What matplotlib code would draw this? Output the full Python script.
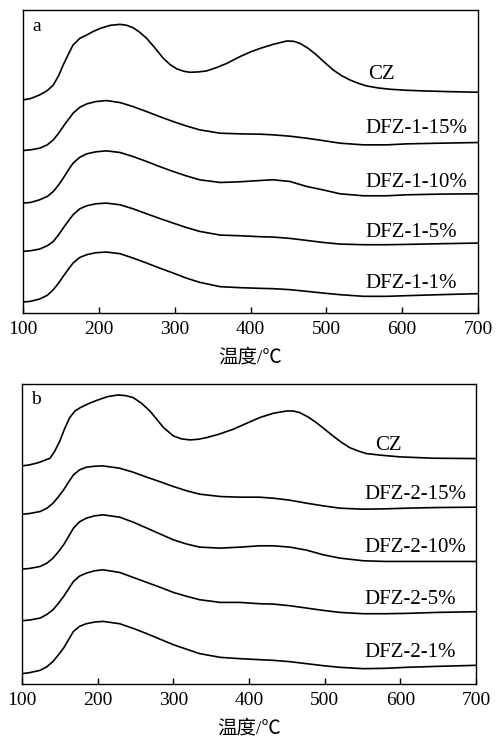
import matplotlib.pyplot as plt

plt.rcParams['font.family'] = ['Liberation Serif', 'Noto Sans CJK SC', 'DejaVu Sans']

# ---- panel a (stacked intensity, a.u.) ----
cz_a_t = [100, 110, 122, 132, 140, 147, 153, 160, 166, 175, 184, 193, 202, 215, 228, 237, 245, 254,
          263, 274, 285, 294, 303, 312, 320, 331, 342, 355, 369, 386, 400, 413, 430, 448, 457, 465,
          476, 487, 498, 509, 520, 531, 542, 553, 568, 584, 605, 628, 660, 700]
cz_a = [64.0, 64.4, 65.5, 66.8, 68.5, 71.3, 74.5, 77.8, 80.5, 82.5, 83.5, 84.6, 85.5, 86.4, 86.7, 86.4,
        85.7, 84.3, 82.5, 79.6, 76.5, 74.6, 73.3, 72.6, 72.3, 72.4, 72.7, 73.7, 75.0, 77.0, 78.4, 79.5,
        80.7, 81.7, 81.6, 81.0, 79.5, 77.5, 75.2, 73.0, 71.3, 70.0, 69.0, 68.2, 67.6, 67.2, 66.9, 66.7,
        66.5, 66.3]

dfz_t = [100, 110, 122, 132, 140, 147, 153, 160, 166, 175, 184, 196, 210, 228, 245, 263, 280, 298,
         315, 333, 360, 386, 413, 430, 452, 474, 495, 518, 549, 580, 606, 650, 700]
dfz1_15 = [48.8, 49.0, 49.5, 50.5, 52.0, 54.0, 56.0, 58.2, 60.0, 61.8, 62.8, 63.5, 63.8, 63.2, 62.0,
           60.5, 59.0, 57.5, 56.2, 55.0, 54.0, 53.8, 53.7, 53.5, 53.1, 52.5, 51.8, 51.0, 50.5, 50.5,
           50.8, 51.0, 51.2]
dfz1_10 = [33.0, 33.2, 34.0, 35.0, 36.5, 38.5, 40.5, 43.0, 45.0, 46.8, 47.8, 48.4, 48.7, 48.2, 47.0,
           45.5, 44.0, 42.5, 41.2, 40.0, 39.2, 39.4, 39.8, 40.0, 39.5, 38.0, 37.0, 35.8, 35.2, 35.2,
           35.5, 35.7, 35.8]
dfz1_5 = [18.5, 18.7, 19.2, 20.2, 21.5, 23.5, 25.5, 27.7, 29.5, 31.3, 32.2, 32.8, 33.0, 32.5, 31.3,
          29.8, 28.4, 27.0, 25.7, 24.5, 23.4, 23.2, 22.9, 22.8, 22.4, 21.8, 21.2, 20.7, 20.5, 20.5,
          20.6, 20.8, 21.0]
dfz1_1 = [3.3, 3.5, 4.2, 5.3, 7.0, 9.0, 11.0, 13.2, 15.0, 16.7, 17.5, 18.1, 18.3, 17.8, 16.5,
          15.0, 13.5, 12.0, 10.5, 9.2, 7.9, 7.6, 7.4, 7.3, 7.0, 6.5, 6.0, 5.5, 5.0, 5.0,
          5.2, 5.5, 5.8]

# ---- panel b ----
cz_b_t = [100, 110, 122, 137, 143, 150, 156, 163, 170, 177, 188, 199, 213, 227, 237, 247, 258, 269,
          278, 287, 300, 311, 322, 333, 344, 360, 379, 397, 414, 432, 450, 458, 467, 478, 489, 500,
          511, 522, 533, 544, 555, 575, 600, 644, 700]
cz_b = [65.5, 65.8, 66.5, 67.8, 69.8, 73.0, 76.5, 80.0, 82.0, 83.0, 84.2, 85.2, 86.3, 86.8, 86.6, 86.0,
        84.3, 82.0, 79.5, 77.0, 74.5, 73.6, 73.3, 73.5, 74.0, 75.0, 76.5, 78.3, 80.0, 81.3, 82.0, 82.0,
        81.5, 80.2, 78.5, 76.5, 74.5, 72.6, 71.0, 70.0, 69.2, 68.7, 68.2, 67.8, 67.7]

dfz2_t = [100, 110, 124, 133, 141, 148, 155, 162, 168, 176, 185, 196, 207, 229, 247, 265, 283, 300,
          318, 335, 362, 388, 414, 432, 454, 476, 498, 520, 551, 580, 608, 650, 700]
dfz2_15 = [51.0, 51.2, 51.8, 52.8, 54.3, 56.2, 58.3, 60.8, 62.8, 64.3, 65.1, 65.4, 65.5, 64.8, 63.6,
           62.1, 60.7, 59.3, 58.0, 57.0, 56.3, 56.1, 56.1, 55.8, 55.2, 54.3, 53.5, 52.8, 52.5, 52.6,
           52.8, 53.0, 53.1]
dfz2_10 = [34.5, 34.7, 35.3, 36.3, 37.8, 39.7, 41.8, 44.5, 46.8, 48.7, 49.8, 50.5, 50.8, 50.1, 48.6,
           46.8, 45.0, 43.3, 42.0, 41.1, 40.8, 41.1, 41.5, 41.5, 41.1, 40.2, 38.8, 37.8, 37.0, 36.8,
           36.8, 36.8, 36.8]
dfz2_5 = [19.0, 19.2, 19.8, 20.9, 22.3, 24.2, 26.3, 28.7, 30.8, 32.4, 33.3, 34.0, 34.3, 33.5, 32.0,
          30.5, 29.0, 27.5, 26.3, 25.3, 24.5, 24.5, 24.1, 24.0, 23.5, 22.8, 22.1, 21.5, 21.1, 21.1,
          21.2, 21.5, 21.7]
dfz2_1 = [3.1, 3.4, 4.1, 5.2, 6.8, 8.7, 10.8, 13.5, 15.8, 17.3, 18.1, 18.6, 18.8, 18.1, 16.7,
          15.1, 13.4, 11.8, 10.4, 9.1, 8.0, 7.6, 7.3, 7.1, 6.7, 6.1, 5.5, 5.0, 4.6, 4.7,
          5.0, 5.3, 5.6]

names_a = ['CZ', 'DFZ-1-15%', 'DFZ-1-10%', 'DFZ-1-5%', 'DFZ-1-1%']
names_b = ['CZ', 'DFZ-2-15%', 'DFZ-2-10%', 'DFZ-2-5%', 'DFZ-2-1%']
xticks = [100, 200, 300, 400, 500, 600, 700]
xlabel = '温度/℃'


def panel(ax, letter, curves, names, label_pos, ytop):
    for (t, y), name, (lx, ly) in zip(curves, names, label_pos):
        ax.plot(t, y, color='black', lw=1.2)
        ax.text(lx, ly, name, fontsize=15, ha='left', va='center')
    ax.set_xlim(100, 700)
    ax.set_ylim(0, ytop)
    ax.set_xticks(xticks)
    ax.set_yticks([])
    ax.tick_params(axis='x', direction='in', length=4, width=1, labelsize=14, pad=6)
    for s in ax.spines.values():
        s.set_linewidth(1.0)
    ax.set_xlabel(xlabel, fontsize=14, labelpad=7)
    ax.text(0.02, 0.975, letter, transform=ax.transAxes, fontsize=14, ha='left', va='top')


fig = plt.figure(figsize=(4.97, 7.42), dpi=100)
ax1 = fig.add_axes([0.0463, 0.5782, 0.9155, 0.4083])
ax2 = fig.add_axes([0.0443, 0.0782, 0.9135, 0.4043])

panel(ax1, 'a',
      [(cz_a_t, cz_a), (dfz_t, dfz1_15), (dfz_t, dfz1_10), (dfz_t, dfz1_5), (dfz_t, dfz1_1)],
      names_a, [(555, 71.5), (552, 55.5), (552, 39.2), (552, 24.3), (552, 9.0)], 91.0)
panel(ax2, 'b',
      [(cz_b_t, cz_b), (dfz2_t, dfz2_15), (dfz2_t, dfz2_10), (dfz2_t, dfz2_5), (dfz2_t, dfz2_1)],
      names_b, [(566, 71.5), (553, 56.8), (553, 41.1), (553, 25.5), (553, 9.5)], 90.1)

fig.savefig('out.png', dpi=100)
